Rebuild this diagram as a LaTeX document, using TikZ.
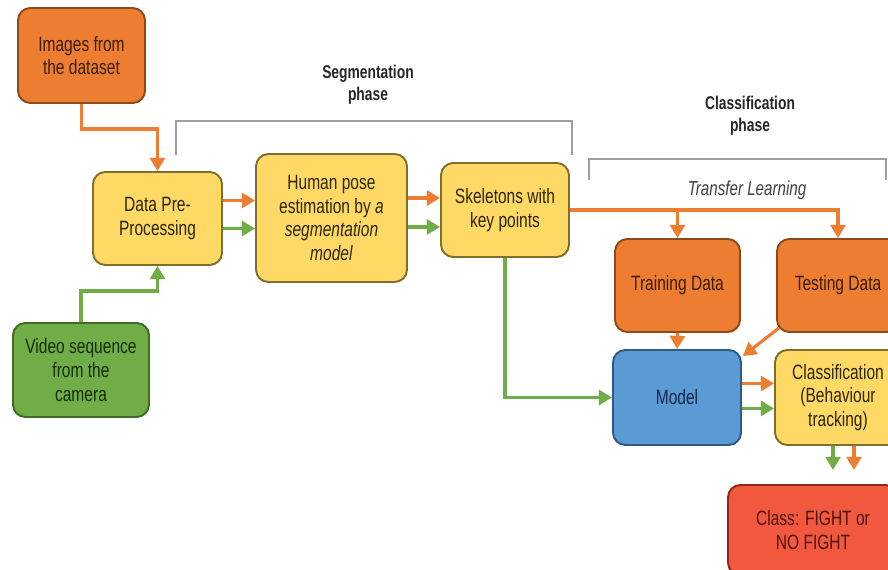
\documentclass[tikz,border=0pt]{standalone}
\usepackage{fontspec}
\setmainfont{Liberation Sans}[FakeStretch=0.75]
\usepackage{tikz}
\usetikzlibrary{arrows.meta, positioning, calc}

\definecolor{boxorange}{HTML}{ED7D31}
\definecolor{boxyellow}{HTML}{FFD966}
\definecolor{boxgreen}{HTML}{70AD47}
\definecolor{boxblue}{HTML}{5B9BD5}
\definecolor{boxred}{HTML}{F2583E}
\definecolor{lineorange}{HTML}{8B4A1C}
\definecolor{lineyellow}{HTML}{7F6F2A}
\definecolor{linegreen}{HTML}{3E6B26}
\definecolor{lineblue}{HTML}{2F5A85}
\definecolor{linered}{HTML}{8A2A1A}
\definecolor{txtorange}{HTML}{3A1E05}
\definecolor{txtyellow}{HTML}{2E2600}
\definecolor{txtgreen}{HTML}{142C08}
\definecolor{txtblue}{HTML}{142844}
\definecolor{txtred}{HTML}{4A1208}
\definecolor{arroworange}{HTML}{ED7D31}
\definecolor{arrowgreen}{HTML}{70AD47}

\tikzset{
  procbox/.style={draw, line width=1.1pt, rounded corners=7pt, align=center,
    inner sep=2pt, font=\fontsize{11.8}{13.5}\selectfont},
  orangebox/.style={procbox, fill=boxorange, draw=lineorange, text=txtorange},
  yellowbox/.style={procbox, fill=boxyellow, draw=lineyellow, text=txtyellow},
  greenbox/.style={procbox, fill=boxgreen, draw=linegreen, text=txtgreen},
  bluebox/.style={procbox, fill=boxblue, draw=lineblue, text=txtblue},
  redbox/.style={procbox, fill=boxred, draw=linered, text=txtred},
  flow/.style={line width=1.8pt, -{Triangle[length=7.5pt,width=8.5pt]}},
  oflow/.style={flow, draw=arroworange},
  gflow/.style={flow, draw=arrowgreen},
  bracket/.style={draw=gray!75, line width=0.8pt},
  phaselabel/.style={align=center, text=black!85,
    font=\fontsize{10.5}{12.5}\selectfont\bfseries}
}

\begin{document}
\begin{tikzpicture}[x=0.02cm, y=0.02cm]

  \useasboundingbox (0,0) rectangle (888,570);
  \clip (0,0) rectangle (888,570);

  % Inputs
  \node[orangebox, minimum width=2.54cm, minimum height=1.9cm] (img) at (81.5,514.5) {Images from\\the dataset};
  \node[greenbox, minimum width=2.72cm, minimum height=1.88cm] (vid) at (81,200) {Video sequence\\from the\\camera};

  % Segmentation phase
  \node[yellowbox, minimum width=2.58cm, minimum height=1.86cm] (pre) at (157.5,351.5) {Data Pre-\\Processing};
  \node[yellowbox, minimum width=3.02cm, minimum height=2.56cm] (hum) at (331.5,352) {Human pose\\estimation by \textit{a}\\\textit{segmentation}\\\textit{model}};
  \node[yellowbox, minimum width=2.56cm, minimum height=1.88cm] (skel) at (505,360) {Skeletons with\\key points};

  % Classification phase
  \node[orangebox, minimum width=2.5cm, minimum height=1.86cm] (train) at (677.5,284.5) {Training Data};
  \node[orangebox, minimum width=2.44cm, minimum height=1.86cm] (test) at (838,284.5) {Testing Data};
  \node[bluebox, minimum width=2.56cm, minimum height=1.9cm] (model) at (677,172.5) {Model};
  \node[yellowbox, minimum width=2.52cm, minimum height=1.9cm] (cls) at (838,172.5) {Classification\\(Behaviour\\tracking)};
  \node[redbox, minimum width=3.4cm, minimum height=1.8cm] (fight) at (813,40) {Class: FIGHT or\\NO FIGHT};

  % Phase brackets
  \draw[bracket] (176,415) -- (176,449) -- (572,449) -- (572,415);
  \node[phaselabel] (seglabel) at (368,485) {Segmentation\\phase};
  \draw[bracket] (589,390) -- (589,411) -- (886,411) -- (886,390);
  \node[phaselabel] (clslabel) at (750,454) {Classification\\phase};
  \node[font=\fontsize{11.5}{13.5}\selectfont\itshape, text=black!75] (tl) at (747,380) {Transfer Learning};

  % Inputs to pre-processing
  \draw[oflow] (img.south) -- ++(0,-25) -| (pre.north);
  \draw[gflow] (vid.north) -- ++(0,31) -| (pre.south);

  % Segmentation flow
  \coordinate (p1) at ($(pre.east)+(0,18)$);
  \coordinate (p2) at ($(pre.east)+(0,-10)$);
  \draw[oflow] (p1) -- (p1 -| hum.west);
  \draw[gflow] (p2) -- (p2 -| hum.west);
  \coordinate (h1) at ($(hum.east)+(0,20)$);
  \coordinate (h2) at ($(hum.east)+(0,-9)$);
  \draw[oflow] (h1) -- (h1 -| skel.west);
  \draw[gflow] (h2) -- (h2 -| skel.west);

  % Transfer learning split
  \draw[oflow] (skel.east) -| (test.north);
  \draw[oflow] (skel.east -| train.north) -- (train.north);
  \draw[gflow] (skel.south) |- (model.west);

  % Model inputs and outputs
  \draw[oflow] (train.south) -- (model.north);
  \draw[oflow] ($(test.south west)+(3,5)$) -- ($(model.north east)+(1,-7)$);
  \coordinate (m1) at ($(model.east)+(0,14)$);
  \coordinate (m2) at ($(model.east)+(0,-11)$);
  \draw[oflow] (m1) -- (m1 -| cls.west);
  \draw[gflow] (m2) -- (m2 -| cls.west);

  % Result
  \coordinate (c1) at ($(cls.south)+(-5,0)$);
  \coordinate (c2) at ($(cls.south)+(16,0)$);
  \draw[gflow, shorten >=8pt] (c1) -- (c1 |- fight.north);
  \draw[oflow, shorten >=8pt] (c2) -- (c2 |- fight.north);

\end{tikzpicture}
\end{document}
